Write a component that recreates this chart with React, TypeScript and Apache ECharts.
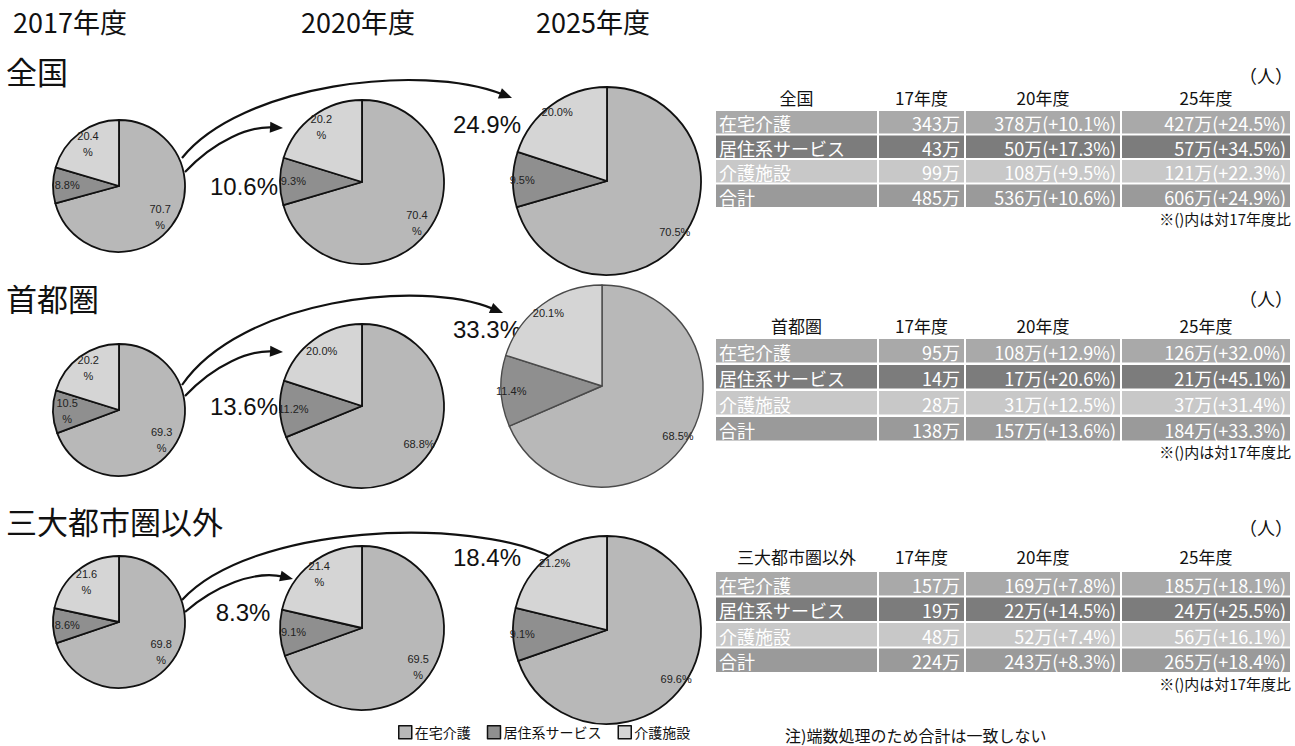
import React, { useEffect, useRef } from "react";
import * as echarts from "echarts";

const years = ["2017年度", "2020年度", "2025年度"];
const regions = ["全国", "首都圏", "三大都市圏以外"];
const categories = ["在宅介護", "居住系サービス", "介護施設"];

// shares (%) per year: [在宅介護, 居住系サービス, 介護施設]
const sharesNational = [
  [70.7, 8.8, 20.4],
  [70.4, 9.3, 20.2],
  [70.5, 9.5, 20.0],
];
const sharesCapital = [
  [69.3, 10.5, 20.2],
  [68.8, 11.2, 20.0],
  [68.5, 11.4, 20.1],
];
const sharesOther = [
  [69.8, 8.6, 21.6],
  [69.5, 9.1, 21.4],
  [69.6, 9.1, 21.2],
];

const growthTo2020 = ["10.6%", "13.6%", "8.3%"];
const growthTo2025 = ["24.9%", "33.3%", "18.4%"];

const tableYears = ["17年度", "20年度", "25年度"];
const rowNames = ["在宅介護", "居住系サービス", "介護施設", "合計"];
const tableNational = [
  ["343万", "378万(+10.1%)", "427万(+24.5%)"],
  ["43万", "50万(+17.3%)", "57万(+34.5%)"],
  ["99万", "108万(+9.5%)", "121万(+22.3%)"],
  ["485万", "536万(+10.6%)", "606万(+24.9%)"],
];
const tableCapital = [
  ["95万", "108万(+12.9%)", "126万(+32.0%)"],
  ["14万", "17万(+20.6%)", "21万(+45.1%)"],
  ["28万", "31万(+12.5%)", "37万(+31.4%)"],
  ["138万", "157万(+13.6%)", "184万(+33.3%)"],
];
const tableOther = [
  ["157万", "169万(+7.8%)", "185万(+18.1%)"],
  ["19万", "22万(+14.5%)", "24万(+25.5%)"],
  ["48万", "52万(+7.4%)", "56万(+16.1%)"],
  ["224万", "243万(+8.3%)", "265万(+18.4%)"],
];
const unitLabel = "（人）";
const ratioNote = "※()内は対17年度比";
const footNote = "注)端数処理のため合計は一致しない";

const allShares = [sharesNational, sharesCapital, sharesOther];
const allTables = [tableNational, tableCapital, tableOther];

// ---- layout / style (not data) ----
const W = 1295;
const H = 746;
const JP = '"Noto Sans CJK JP", "Noto Sans", sans-serif';
const NARROW = '"Liberation Sans Narrow", "Liberation Sans", Arial, sans-serif';
const pieCX = [
  [119, 362, 607],
  [119, 362, 602],
  [119, 362, 607],
];
const pieCY = [
  [186, 182, 181],
  [410, 406, 386],
  [622, 628, 630],
];
const pieR = [
  [66, 82, 94],
  [66, 82, 101],
  [66, 82, 94],
];
const labelRatio = [0.74, 0.8, 0.87];
const splitLabel = [
  [true, true, false],
  [true, false, false],
  [true, true, false],
];
const pieColors = ["#b8b8b8", "#8f8f8f", "#d5d5d5"];
const pieColorsSpecial = ["#ababab", "#a5a5a5", "#cecece"];
const rowColors = ["#a9a9a9", "#7c7c7c", "#c8c8c8", "#9a9a9a"];

const tableLayouts = [
  { unitY: 75, headY: 97, rowTop: 111, step: 24.5, rowH: 22.5 },
  { unitY: 298, headY: 325, rowTop: 339, step: 26, rowH: 23.5 },
  { unitY: 527, headY: 556, rowTop: 572, step: 25.5, rowH: 23.5 },
];
const colX = [716, 879, 966, 1122];
const colW = [161, 85, 154, 168];

// arrows: [start, cp1, cp2, end] per region
const arrowsShort = [
  [[185, 172], [215, 140], [250, 126], [283, 128]],
  [[185, 396], [215, 364], [250, 350], [283, 352]],
  [[185, 612], [215, 586], [255, 570], [293, 579]],
];
const arrowsLong = [
  [[182, 158], [240, 85], [420, 62], [512, 98]],
  [[182, 385], [240, 300], [420, 278], [503, 313]],
  [[182, 600], [250, 525], [470, 515], [563, 563]],
];
const growthPos = [
  [[244, 186], [487, 124]],
  [[244, 406], [487, 329]],
  [[243, 612], [487, 557]],
];

function arrowGraphics(pts: number[][]) {
  const [p0, p1, p2, p3] = pts;
  const dx = p3[0] - p2[0];
  const dy = p3[1] - p2[1];
  const len = Math.sqrt(dx * dx + dy * dy) || 1;
  const ux = dx / len;
  const uy = dy / len;
  const L = 13;
  const hw = 5.5;
  const bx = p3[0] - ux * L;
  const by = p3[1] - uy * L;
  return [
    {
      type: "bezierCurve",
      shape: {
        x1: p0[0], y1: p0[1],
        cpx1: p1[0], cpy1: p1[1],
        cpx2: p2[0], cpy2: p2[1],
        x2: bx + ux * 3, y2: by + uy * 3,
      },
      style: { stroke: "#111", lineWidth: 2.2, fill: null },
      silent: true,
    },
    {
      type: "polygon",
      shape: {
        points: [
          [p3[0], p3[1]],
          [bx - uy * hw, by + ux * hw],
          [bx + uy * hw, by - ux * hw],
        ],
      },
      style: { fill: "#111" },
      silent: true,
    },
  ];
}

export default function App() {
  const ref = useRef<HTMLDivElement>(null);

  useEffect(() => {
    document.body.style.margin = "0";
    if (!ref.current) return;
    const chart = echarts.init(ref.current, null, { renderer: "svg" });

    const series: any[] = [];
    // visible pies
    for (let r = 0; r < 3; r++) {
      for (let y = 0; y < 3; y++) {
        const special = r === 1 && y === 2;
        series.push({
          type: "pie",
          name: `${regions[r]}-${years[y]}`,
          center: [pieCX[r][y], pieCY[r][y]],
          radius: [0, pieR[r][y]],
          startAngle: 90,
          clockwise: true,
          silent: true,
          avoidLabelOverlap: false,
          color: special ? pieColorsSpecial : pieColors,
          itemStyle: {
            borderColor: special ? "#4a4a4a" : "#111",
            borderWidth: special ? 1.4 : 1.8,
          },
          label: { show: false },
          labelLine: { show: false },
          data: categories.map((c, i) => ({ name: c, value: allShares[r][y][i] })),
        });
      }
    }
    // label carriers (transparent), so labels sit at labelRatio * radius
    for (let r = 0; r < 3; r++) {
      for (let y = 0; y < 3; y++) {
        const split = splitLabel[r][y];
        series.push({
          type: "pie",
          name: `${regions[r]}-${years[y]}-label`,
          center: [pieCX[r][y], pieCY[r][y]],
          radius: [0, pieR[r][y] * labelRatio[y] * 2],
          startAngle: 90,
          clockwise: true,
          silent: true,
          legendHoverLink: false,
          avoidLabelOverlap: false,
          itemStyle: { color: "rgba(0,0,0,0)", borderWidth: 0 },
          label: {
            show: true,
            position: "inside",
            fontSize: 11,
            lineHeight: 16,
            color: "#222",
            fontFamily: NARROW,
            formatter: (p: any) => {
              const v = Number(p.value).toFixed(1);
              return split && p.value >= 10 ? `${v}\n%` : `${v}%`;
            },
          },
          labelLine: { show: false },
          data: categories.map((c, i) => ({ name: c, value: allShares[r][y][i] })),
        });
      }
    }

    const graphic: any[] = [];
    // year titles
    const titleX = [70, 358, 593];
    years.forEach((t, i) => {
      graphic.push({
        type: "text",
        style: {
          text: t, x: titleX[i], y: 21, font: `27px ${JP}`, fill: "#111",
          textAlign: "center", textVerticalAlign: "middle",
        },
      });
    });
    // region titles
    const regionY = [70, 297, 520];
    regions.forEach((t, i) => {
      graphic.push({
        type: "text",
        style: {
          text: t, x: 6, y: regionY[i], font: `31px ${JP}`, fill: "#111",
          textAlign: "left", textVerticalAlign: "middle",
        },
      });
    });
    // arrows + growth labels
    for (let r = 0; r < 3; r++) {
      graphic.push(...arrowGraphics(arrowsShort[r]));
      graphic.push(...arrowGraphics(arrowsLong[r]));
      [growthTo2020[r], growthTo2025[r]].forEach((g, k) => {
        graphic.push({
          type: "text",
          style: {
            text: g, x: growthPos[r][k][0], y: growthPos[r][k][1],
            font: `24px ${NARROW}`, fill: "#111",
            textAlign: "center", textVerticalAlign: "middle",
          },
        });
      });
    }
    // tables
    for (let t = 0; t < 3; t++) {
      const L = tableLayouts[t];
      const tbl = allTables[t];
      graphic.push({
        type: "text",
        style: {
          text: unitLabel, x: 1293, y: L.unitY, font: `18px ${JP}`, fill: "#111",
          textAlign: "right", textVerticalAlign: "middle",
        },
      });
      const heads = [regions[t], ...tableYears];
      heads.forEach((h, c) => {
        graphic.push({
          type: "text",
          style: {
            text: h, x: colX[c] + colW[c] / 2, y: L.headY, font: `17px ${JP}`, fill: "#111",
            textAlign: "center", textVerticalAlign: "middle",
          },
        });
      });
      rowNames.forEach((rn, ri) => {
        const top = L.rowTop + ri * L.step;
        const cells = [rn, ...tbl[ri]];
        cells.forEach((txt, c) => {
          graphic.push({
            type: "rect",
            shape: { x: colX[c], y: top, width: colW[c], height: L.rowH },
            style: { fill: rowColors[ri] },
            silent: true,
          });
          graphic.push({
            type: "text",
            style: {
              text: txt,
              x: c === 0 ? colX[c] + 3 : colX[c] + colW[c] - 4,
              y: top + L.rowH / 2 + 1,
              font: `18px ${JP}`,
              fill: "#ffffff",
              textAlign: c === 0 ? "left" : "right",
              textVerticalAlign: "middle",
            },
          });
        });
      });
      const bottom = L.rowTop + 3 * L.step + L.rowH;
      graphic.push({
        type: "text",
        style: {
          text: ratioNote, x: 1291, y: bottom + 11, font: `15px ${JP}`, fill: "#111",
          textAlign: "right", textVerticalAlign: "middle",
        },
      });
    }
    graphic.push({
      type: "text",
      style: {
        text: footNote, x: 785, y: 735, font: `16px ${JP}`, fill: "#111",
        textAlign: "left", textVerticalAlign: "middle",
      },
    });

    chart.setOption({
      animation: false,
      backgroundColor: "#ffffff",
      legend: {
        data: categories,
        left: 393,
        top: 720,
        itemWidth: 13,
        itemHeight: 13,
        itemGap: 16,
        icon: "rect",
        selectedMode: false,
        itemStyle: { borderColor: "#111", borderWidth: 1.5 },
        textStyle: { fontSize: 14, fontFamily: JP, color: "#111", padding: [0, 0, 0, -2] },
      },
      series,
      graphic,
    });

    return () => chart.dispose();
  }, []);

  return <div ref={ref} style={{ width: W, height: H }} />;
}
